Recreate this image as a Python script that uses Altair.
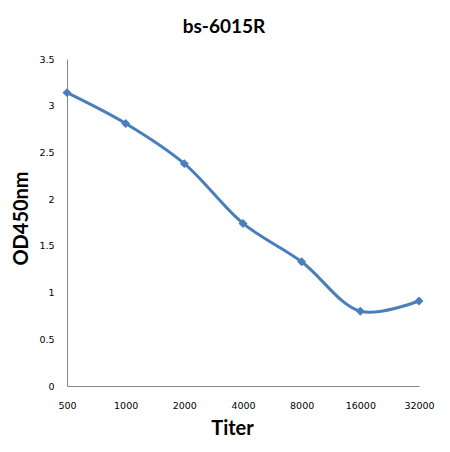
import altair as alt
import pandas as pd

titers = ["500", "1000", "2000", "4000", "8000", "16000", "32000"]
od450 = [3.14, 2.81, 2.38, 1.74, 1.33, 0.80, 0.91]
y_ticks = [0, 0.5, 1, 1.5, 2, 2.5, 3, 3.5]

df = pd.DataFrame({"Titer": titers, "OD": od450})

blue = "#4A7EBB"
axis_gray = "#868686"

x = alt.X(
    "Titer:N",
    sort=titers,
    scale=alt.Scale(type="point", padding=0),
    axis=alt.Axis(
        title="Titer", labelAngle=0, ticks=False, grid=False,
        domainColor=axis_gray, labelFont="DejaVu Sans", labelFontSize=9.5,
        labelColor="#000000", labelPadding=14, labelBaseline="top",
        titleFont="Lato", titleFontSize=20, titleFontWeight="bold",
        titleX=165, titleY=42, titleBaseline="middle", titleAlign="center",
        labelOverlap=False,
    ),
)
y = alt.Y(
    "OD:Q",
    scale=alt.Scale(domain=[0, 3.5], nice=False, zero=True),
    axis=alt.Axis(
        title="OD450nm", values=y_ticks, format="~g", ticks=False, grid=False,
        domainColor=axis_gray, labelFont="DejaVu Sans", labelFontSize=9.5,
        labelColor="#000000", labelPadding=13,
        titleFont="Lato", titleFontSize=20, titleFontWeight="bold",
        titleX=-46, titleY=159, titleAngle=-90, titleBaseline="middle",
        titleAlign="center",
    ),
)

line = alt.Chart(df).mark_line(
    interpolate="catmull-rom", color=blue, strokeWidth=3
).encode(x=x, y=y)

points = alt.Chart(df).mark_point(
    shape="diamond", filled=True, color=blue, size=80, opacity=1
).encode(x=x, y=y)

chart = (
    alt.layer(line, points)
    .properties(
        width=352,
        height=327,
        background="#ffffff",
        title=alt.TitleParams(
            "bs-6015R", font="Lato", fontSize=19, fontWeight="bold",
            color="#000000", baseline="alphabetic", offset=2, dx=-19,
        ),
        autosize=alt.AutoSizeParams(type="none"),
        padding={"left": 59, "top": 51, "right": 23, "bottom": 58},
    )
    .configure_view(strokeWidth=0, stroke="transparent")
)

chart.save("out.html", embed_options={"renderer": "svg", "actions": False})
